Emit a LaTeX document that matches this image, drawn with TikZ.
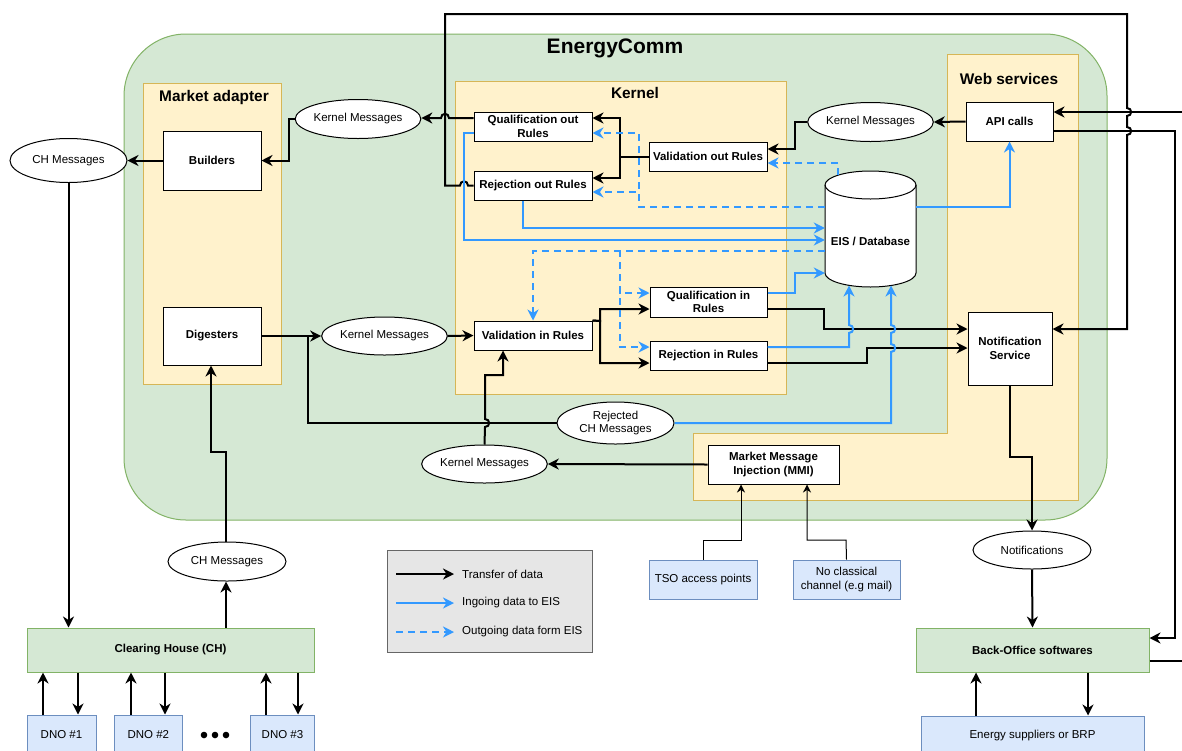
\documentclass[tikz,border=0pt]{standalone}
\usepackage{fontspec}
\setmainfont{Liberation Sans}
\usetikzlibrary{arrows.meta,shapes.geometric}
\definecolor{grnfill}{HTML}{D5E8D4}
\definecolor{grnline}{HTML}{82B366}
\definecolor{ylwfill}{HTML}{FFF2CC}
\definecolor{ylwline}{HTML}{D6B656}
\definecolor{blufill}{HTML}{DAE8FC}
\definecolor{bluline}{HTML}{6C8EBF}
\definecolor{eisblue}{HTML}{3399FF}
\definecolor{legfill}{HTML}{E6E6E6}
\definecolor{legline}{HTML}{666666}
\begin{document}
\begin{tikzpicture}[x=1pt,y=-1pt,
  txt/.style={font=\fontsize{11.5}{13.5}\selectfont},
  bftxt/.style={font=\fontsize{11.5}{13.5}\selectfont\bfseries},
  rulebox/.style={draw=black, fill=white, line width=1pt, inner sep=0pt, align=center, bftxt},
  msg/.style={ellipse, draw=black, fill=white, line width=1pt, inner sep=0pt, minimum width=117pt, minimum height=39pt, align=center, txt},
  extbox/.style={draw=bluline, fill=blufill, line width=1pt, inner sep=0pt, align=center, txt},
  party/.style={draw=grnline, fill=grnfill, line width=1pt, inner sep=0pt, align=center, bftxt},
  zone/.style={draw=ylwline, fill=ylwfill, line width=1pt},
  zonetitle/.style={font=\fontsize{15.4}{18}\selectfont\bfseries, inner sep=0pt},
  headtip/.style={-{Stealth[length=11pt,width=11pt,inset=3.5pt]}},
  link/.style={draw=black, line width=2pt},
  flow/.style={link, headtip},
  feed/.style={draw=eisblue, line width=2pt, headtip},
  pull/.style={feed, dash pattern=on 7pt off 5pt},
  feedthin/.style={draw=black, line width=1pt, -{Stealth[length=8pt,width=8pt,inset=2.5pt]}},
]
\clip (0,0) rectangle (1182,750);

% ---- platform and its zones ----
\draw[draw=grnline, fill=grnfill, line width=1pt, rounded corners=62pt] (124,34) rectangle (1107,520);
\node[font=\fontsize{21}{24}\selectfont\bfseries] (ecomm) at (615,48) {EnergyComm};

\draw[zone] (143,83) rectangle (281,384);
\node[zonetitle] (matitle) at (214,98) {Market adapter};

\draw[zone] (455,81) rectangle (786,394);
\node[zonetitle] (ktitle) at (635,93) {Kernel};

\draw[zone] (947,54) -- (1078,54) -- (1078,500) -- (693,500) -- (693,433) -- (947,433) -- cycle;
\node[zonetitle] (wstitle) at (1009,79) {Web services};

% ---- EIS database cylinder ----
\draw[fill=white, line width=1pt] (825,185) -- (825,273)
  arc[start angle=180, end angle=360, x radius=45.5pt, y radius=14pt] -- (916,185)
  arc[start angle=0, end angle=180, x radius=45.5pt, y radius=14pt] -- cycle;
\draw[line width=1pt] (825,185) arc[start angle=180, end angle=360, x radius=45.5pt, y radius=14pt];
\node[inner sep=0pt, minimum width=91pt, minimum height=116pt, bftxt] (eis) at (870.5,229) {};
\node[bftxt] (eislabel) at (870.5,241) {EIS / Database};
\coordinate (eistop) at (838,175);
\coordinate (eisbotA) at (849,285.5);
\coordinate (eisbotB) at (891,285.5);

% ---- boxes ----
\node[rulebox, minimum width=98pt, minimum height=59pt] (builders) at (212,160.5) {Builders};
\node[rulebox, minimum width=98pt, minimum height=58pt] (digesters) at (212,336) {Digesters};
\node[rulebox, minimum width=118pt, minimum height=29pt] (qout) at (533,126.5) {Qualification out\\Rules};
\node[rulebox, minimum width=118pt, minimum height=29pt] (rout) at (533,185.5) {Rejection out Rules};
\node[rulebox, minimum width=118pt, minimum height=29pt] (vout) at (708,156.5) {Validation out Rules};
\node[rulebox, minimum width=118pt, minimum height=29pt] (vin) at (533,335.5) {Validation in Rules};
\node[rulebox, minimum width=117pt, minimum height=30pt] (qin) at (708.5,302) {Qualification in\\Rules};
\node[rulebox, minimum width=117pt, minimum height=29pt] (rin) at (708.5,355.5) {Rejection in Rules};
\node[rulebox, minimum width=87pt, minimum height=39pt] (api) at (1009.5,121.5) {API calls};
\node[rulebox, minimum width=84pt, minimum height=73pt] (notif) at (1010,348.5) {Notification\\Service};
\node[rulebox, minimum width=131pt, minimum height=39pt] (mmi) at (773.5,464.5) {Market Message\\Injection (MMI)};

% ---- message ellipses ----
\node[msg, minimum width=118pt] (km1) at (358,119) {Kernel Messages};
\node[msg] (km2) at (870.5,122) {Kernel Messages};
\node[msg, minimum height=38pt] (km3) at (384.5,336) {Kernel Messages};
\node[msg, minimum height=38pt] (km4) at (484.5,464) {Kernel Messages};
\node[msg, minimum height=44pt] (chm1) at (68.5,160.5) {CH Messages};
\node[msg, minimum width=118pt] (chm2) at (227,561.5) {CH Messages};
\node[msg, minimum height=42pt] (rejch) at (615.5,423) {Rejected\\CH Messages};
\node[msg, minimum width=118pt, minimum height=38pt] (notes) at (1032,550) {Notifications};

% ---- outside parties ----
\node[party, minimum width=287pt, minimum height=44pt] (chouse) at (170.5,650) {Clearing House (CH)};
\node[party, minimum width=233pt, minimum height=44pt] (backoffice) at (1032.5,650) {Back-Office softwares};
\node[extbox, minimum width=69pt, minimum height=40pt] (dnoA) at (61.5,735) {DNO \#1};
\node[extbox, minimum width=68pt, minimum height=40pt] (dnoB) at (148.3,735) {DNO \#2};
\node[extbox, minimum width=63.6pt, minimum height=40pt] (dnoC) at (282.5,735) {DNO \#3};
\fill (204,735) circle[radius=3.3pt] (215,735) circle[radius=3.3pt] (226,735) circle[radius=3.3pt];
\node[extbox, minimum width=223pt, minimum height=40pt] (energy) at (1032.5,736) {Energy suppliers or BRP};
\node[extbox, minimum width=108pt, minimum height=39pt] (tso) at (703,579.5) {TSO access points};
\node[extbox, minimum width=107pt, minimum height=39pt] (nocl) at (846.5,579.5) {No classical\\channel (e.g mail)};

% ---- legend ----
\draw[fill=legfill, draw=legline, line width=1pt] (387,550) rectangle (592,652);
\node[txt, anchor=west, inner sep=0pt] (lgA) at (462,574) {Transfer of data};
\node[txt, anchor=west, inner sep=0pt] (lgB) at (462,603) {Ingoing data to EIS};
\node[txt, anchor=west, inner sep=0pt] (lgC) at (462,632) {Outgoing data form EIS};
\coordinate (lgAs) at (396,574);
\coordinate (lgBs) at (396,603);
\coordinate (lgCs) at (396,632);
\draw[flow] (lgAs) -- ([xshift=-8pt]lgA.west);
\draw[feed] (lgBs) -- ([xshift=-8pt]lgB.west);
\draw[pull] (lgCs) -- ([xshift=-8pt]lgC.west);

% ---- clearing house <-> distribution network operators ----
\draw[flow] (dnoA.north -| 43,0) -- (chouse.south -| 43,0);
\draw[flow] (chouse.south -| 78,0) -- (dnoA.north -| 78,0);
\draw[flow] (dnoB.north -| 131,0) -- (chouse.south -| 131,0);
\draw[flow] (chouse.south -| 165,0) -- (dnoB.north -| 165,0);
\draw[flow] (dnoC.north -| 266,0) -- (chouse.south -| 266,0);
\draw[flow] (chouse.south -| 298,0) -- (dnoC.north -| 298,0);

% ---- outgoing chain: kernel -> market adapter -> clearing house ----
\draw[flow] (qout.west |- 0,118) -- (449,118) .. controls (449,112.5) and (441,112.5) .. (441,118) -- (km1.east |- 0,118);
\draw[flow] (km1.west) -- (289,119) |- (builders.east);
\draw[flow] (builders.west) -- (chm1.east);
\draw[flow] (chm1.south) -- (chouse.north -| chm1.south);
\draw[flow] (vout.west) -- (620,156.5) |- (qout.east |- 0,118);
\draw[flow] (vout.west) -- (620,156.5) |- (rout.east |- 0,178);
\draw[flow] (km2.west) -- (795,122) |- (vout.east |- 0,149);
\draw[flow] (api.west) -- (km2.east);

% rejected outgoing messages go round the top to the notification service
\draw[flow] (rout.west) -- (468,185.5) .. controls (468,180) and (460,180) .. (460,185.5) -- (445,185.5)
  -- (445,14) -- (1127,14)
  -- (1127,108) .. controls (1132.5,108) and (1132.5,116) .. (1127,116)
  -- (1127,127) .. controls (1132.5,127) and (1132.5,135) .. (1127,135)
  -- (1127,329) -- (notif.east |- 0,329);

% ---- web services and back office ----
\draw[flow] (backoffice.east |- 0,661) -- (1196,661) -- (1196,112) -- (api.east |- 0,112);
\draw[flow] (api.east |- 0,131) -- (1175,131) -- (1175,638) -- (backoffice.east |- 0,638);
\draw[flow] (notif.south) -- (1010,457) -| (notes.north);
\draw[flow] (notes.south) -- (backoffice.north);
\draw[flow] (energy.north -| 976,0) -- (backoffice.south -| 976,0);
\draw[flow] (backoffice.south -| 1088,0) -- (energy.north -| 1088,0);

% ---- incoming chain: clearing house -> market adapter -> kernel ----
\draw[flow] (chouse.north -| 226,0) -- (chm2.south -| 226,0);
\draw[flow] (chm2.north -| 226,0) -- (226,452) -| (digesters.south -| 211,0);
\draw[flow] (digesters.east) -- (km3.west);
\draw[link] (digesters.east) -- (308,336) |- (rejch.west);
\draw[flow] (km3.east) -- (vin.west);
\draw[flow] (vin.north east) -- (600,321) |- (qin.west |- 0,309);
\draw[flow] (vin.north east) -- (600,321) |- (rin.west |- 0,363);
\draw[flow] (km4.north) -- (485,427) .. controls (490.5,427) and (490.5,419) .. (485,419) -- (485,375) -- (503,375) -- (vin.south -| 503,0);
\draw[flow] (mmi.west) -- (km4.east);
\draw[feedthin] (tso.north) -- (703,540) -| (mmi.south -| 741,0);
\draw[feedthin] (nocl.north) -- (846,540) -| (mmi.south -| 807,0);
\draw[flow] (qin.east |- 0,309) -- (824,309) |- (notif.west |- 0,329);
\draw[flow] (rin.east |- 0,363) -- (867,363) |- (notif.west |- 0,348);

% ---- data stored into EIS ----
\draw[feed] (qout.west |- 0,133) -- (464,133) -- (464,240) -- (eis.west |- 0,240);
\draw[feed] (rout.south -| 523,0) -- (523,228) -- (eis.west |- 0,228);
\draw[feed] (qin.east |- 0,293) -- (795,293) |- (eis.west |- 0,273);
\draw[feed] (rin.east |- 0,347) -- (849,347) -- (849,333) .. controls (854.5,333) and (854.5,325) .. (849,325) -- (eisbotA);
\draw[feed] (rejch.east) -- (891,423) -- (891,352) .. controls (896.5,352) and (896.5,344) .. (891,344)
  -- (891,333) .. controls (896.5,333) and (896.5,325) .. (891,325) -- (eisbotB);
\draw[feed] (eis.east |- 0,207) -- (1009.5,207) -- (api.south);

% ---- data read from EIS ----
\draw[pull] (eistop) -- (838,163) -- (vout.east |- 0,163);
\draw[pull] (eis.west |- 0,207) -- (639,207) -- (639,133) -- (qout.east |- 0,133);
\draw[pull] (eis.west |- 0,207) -- (639,207) -- (639,192) -- (rout.east |- 0,192);
\draw[pull] (eis.west |- 0,251) -- (533,251) -- (vin.north -| 533,0);
\draw[pull] (eis.west |- 0,251) -- (620,251) -- (620,293) -- (qin.west |- 0,293);
\draw[pull] (eis.west |- 0,251) -- (620,251) -- (620,347) -- (rin.west |- 0,347);
\end{tikzpicture}
\end{document}
